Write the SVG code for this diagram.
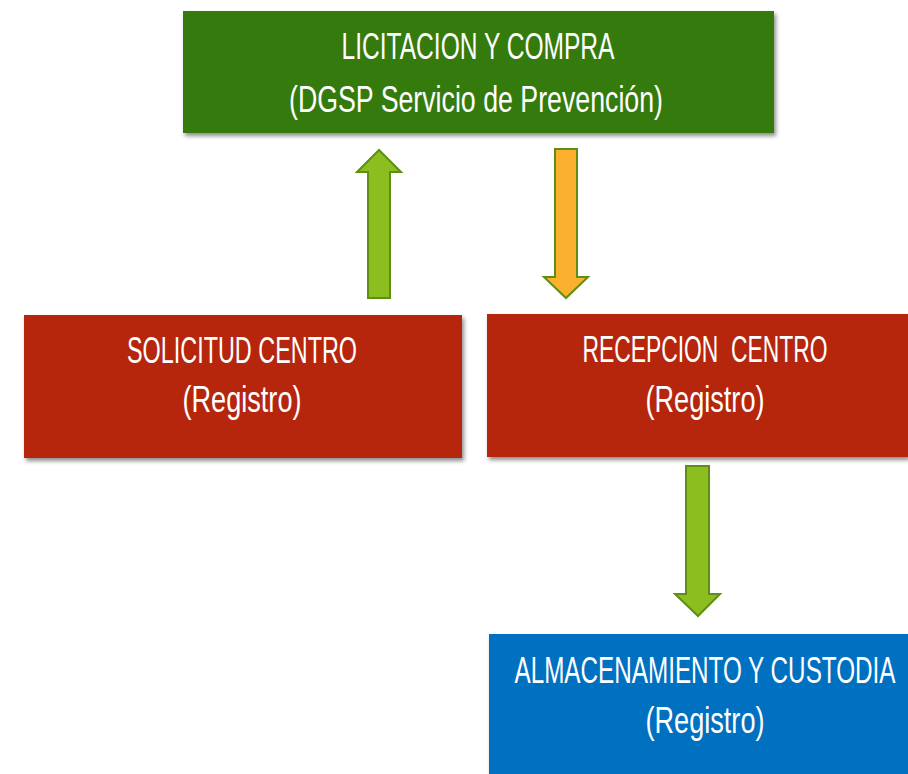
<svg xmlns="http://www.w3.org/2000/svg" width="908" height="774" viewBox="0 0 908 774">
  <defs>
    <filter id="sh" x="-5%" y="-10%" width="115%" height="130%">
      <feDropShadow dx="2" dy="3" stdDeviation="2" flood-color="#000" flood-opacity="0.45"/>
    </filter>
  </defs>
  <style>
    .lbl { font-family: "Liberation Sans", Arial, sans-serif; font-size: 36px; fill: #ffffff; text-anchor: middle; white-space: pre; }
    .arrowG { fill: #8BBE1E; stroke: #5E8E12; stroke-width: 2; stroke-linejoin: miter; }
    .arrowO { fill: #FBB12D; stroke: #5E8E12; stroke-width: 2; stroke-linejoin: miter; }
  </style>
  <rect width="908" height="774" fill="#ffffff"/>

  <g id="licitacion">
    <rect x="183" y="11" width="591" height="122" fill="#357A0A" filter="url(#sh)"/>
    <text class="lbl" x="478" y="59" textLength="273" lengthAdjust="spacingAndGlyphs">LICITACION Y COMPRA</text>
    <text class="lbl" x="476" y="112" textLength="374" lengthAdjust="spacingAndGlyphs">(DGSP Servicio de Prevención)</text>
  </g>

  <g id="solicitud">
    <rect x="24" y="315" width="438" height="143" fill="#B5260B" filter="url(#sh)"/>
    <text class="lbl" x="242" y="363" textLength="230" lengthAdjust="spacingAndGlyphs">SOLICITUD CENTRO</text>
    <text class="lbl" x="242" y="412" textLength="119" lengthAdjust="spacingAndGlyphs">(Registro)</text>
  </g>

  <g id="recepcion">
    <rect x="487" y="314" width="421" height="143" fill="#B5260B" filter="url(#sh)"/>
    <text class="lbl" x="705" y="362" textLength="245" lengthAdjust="spacingAndGlyphs">RECEPCION  CENTRO</text>
    <text class="lbl" x="705" y="412" textLength="119" lengthAdjust="spacingAndGlyphs">(Registro)</text>
  </g>

  <g id="almacenamiento">
    <rect x="489" y="634" width="419" height="140" fill="#0070C0" filter="url(#sh)"/>
    <text class="lbl" x="705" y="683" textLength="381" lengthAdjust="spacingAndGlyphs">ALMACENAMIENTO Y CUSTODIA</text>
    <text class="lbl" x="705" y="733" textLength="119" lengthAdjust="spacingAndGlyphs">(Registro)</text>
  </g>

  <g id="connectors">
    <polygon class="arrowG" points="379,150 401,172 390,172 390,298 368,298 368,172 357,172"/>
    <polygon class="arrowO" points="555,149 577,149 577,277 588,277 566,298 544,277 555,277"/>
    <polygon class="arrowG" points="686,466 709,466 709,594 720,594 698,616 675,594 686,594"/>
  </g>
</svg>
